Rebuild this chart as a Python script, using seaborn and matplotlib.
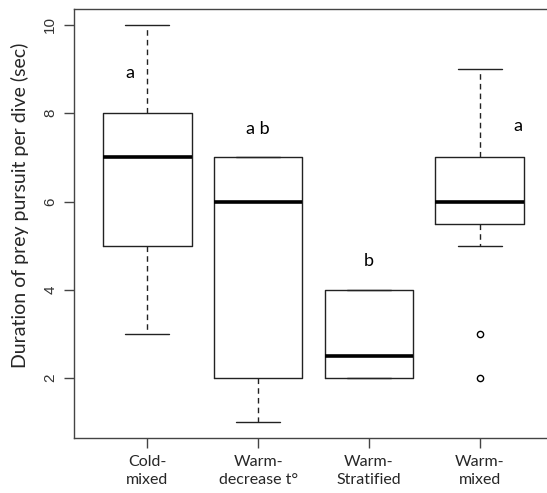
import pandas as pd
import matplotlib
matplotlib.use("Agg")
import matplotlib.pyplot as plt
import seaborn as sns

# groups and the dive durations behind each box (sec)
groups = ["Cold-\nmixed", "Warm-\ndecrease t°", "Warm-\nStratified", "Warm-\nmixed"]
cold_mixed = [3, 5, 7, 8, 10]
warm_decrease = [1, 2, 6, 7, 7]
warm_stratified = [2, 2, 2, 2, 2, 3, 4, 4, 4, 4]
warm_mixed = [2, 3, 5, 6, 6, 6, 6, 7, 7, 7, 9]

# significance letters: (group index, y position)
letters = ["a", "a b", "b", "a"]
letter_x = [-0.16, 1.0, 2.0, 3.34]
letter_y = [8.9, 7.65, 4.65, 7.7]

values = [cold_mixed, warm_decrease, warm_stratified, warm_mixed]
df = pd.DataFrame({
    "group": [g for g, v in zip(groups, values) for _ in v],
    "duration": [x for v in values for x in v],
})

sns.set_style("white")
plt.rcParams["font.family"] = ["Lato", "DejaVu Sans"]

fig = plt.figure(figsize=(5.47, 4.93), dpi=100)
ax = fig.add_axes([0.1353, 0.111, 1.011 - 0.1353, 0.9817 - 0.111])

line = "#222222"
sns.boxplot(data=df, x="group", y="duration", order=groups, ax=ax,
            width=0.8, fill=False, color=line, linewidth=1,
            whis=1.5,
            boxprops=dict(color=line, linewidth=1),
            medianprops=dict(color="black", linewidth=2.6),
            whiskerprops=dict(color=line, linewidth=1, linestyle=(0, (4, 3))),
            capprops=dict(color=line, linewidth=1),
            flierprops=dict(marker="o", markersize=4.5, markerfacecolor="none",
                            markeredgecolor="black", markeredgewidth=1))

for lx, ly, t in zip(letter_x, letter_y, letters):
    ax.text(lx, ly, t, ha="center", va="center", fontsize=13, color="black")

ax.set_xlim(-0.66, 3.66)
ax.set_ylim(0.64, 10.36)
ax.set_yticks([2, 4, 6, 8, 10])
ax.set_yticklabels(["2", "4", "6", "8", "10"], rotation=90, va="center",
                   family="Liberation Sans", fontsize=11, color="#333333")
ax.set_xticks(range(4))
ax.set_xticklabels(groups, fontsize=11.5, linespacing=1.35)
ax.set_xlabel("")
ax.set_ylabel("Duration of prey pursuit per dive (sec)", fontsize=14)
ax.yaxis.set_label_coords(-0.094, 0.543)

for s in ax.spines.values():
    s.set_visible(True)
    s.set_color("#444444")
    s.set_linewidth(1)
ax.tick_params(axis="both", direction="out", length=7, width=1, color="#444444",
               bottom=True, left=True, pad=5)

fig.savefig("out.png", dpi=100)
